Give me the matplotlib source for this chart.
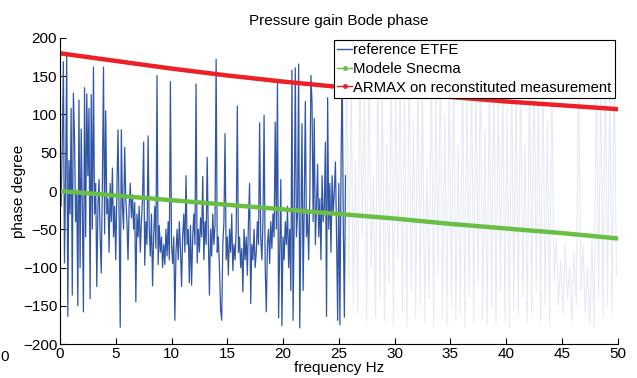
import numpy as np
import matplotlib
matplotlib.use('Agg')
import matplotlib.pyplot as plt
from matplotlib.lines import Line2D

plt.rcParams['font.family'] = ['Liberation Sans', 'DejaVu Sans']

# reference ETFE, 0 .. 25.6 Hz every 0.1 Hz
etfe_step = 0.1
etfe = [
    30, -20, 60, 169, -94, 10, 177, -164, 40, -30,
    108, -136, 128, 70, -40, 0, -150, 119, -100, 81,
    -20, -158, 135, -60, 127, 20, 108, -141, 126, -50,
    162, -30, 10, -125, -20, 15, -60, -107, 10, 162,
    -56, 105, -30, -10, -80, 10, -40, 30, -60, -20,
    -90, 0, 80, -30, -178, 80, -20, -50, 57, -10,
    -40, -90, -20, 10, -35, -5, -50, -15, -145, -30,
    -60, -20, -80, -40, -10, 64, -97, -40, -70, 72,
    -50, -85, -30, -124, -60, -20, -75, 151, -96, -45,
    -80, -60, -100, -70, -96, -50, -85, -40, -90, 143,
    -70, -95, -60, -169, -80, -50, -90, -40, -75, -125,
    -60, -30, -80, 20, -70, -50, -120, -45, -123, -60,
    -30, -70, 140, -94, -50, -80, -35, -60, 19, -90,
    -40, -70, 44, -60, -136, -50, -85, -30, -70, -45,
    172, -80, -60, -100, -155, -169, -70, -40, 75, -90,
    -60, -110, -50, -80, -30, -104, -70, -90, -50, 111,
    -80, -60, -100, -75, -132, -50, -90, -60, -110, -40,
    10, -147, -70, -90, -50, -100, -80, -40, -70, 89,
    -60, -90, -40, 99, -100, -158, -70, -50, -95, -40,
    -75, -30, -60, 90, -50, 145, -166, -80, 15, -176,
    -60, -90, -40, -70, -20, -100, -50, -130, 158, -169,
    -40, 161, -60, -30, 166, -179, -50, 88, -130, -20,
    117, -60, -30, -90, -10, 151, 115, -40, 95, -70,
    -20, 35, -60, -10, -90, 20, -40, -20, 64, -164,
    122, -50, 10, -80, 20, -30, 0, 38, -60, -169,
    10, -175, 30, 170, -40, -165, 20,
]

# faint continuation of the ETFE, 25.7 .. 49.9 Hz every 0.2 Hz
faint_start = 25.7
faint_step = 0.2
etfe_faint = [
    150, -120, 160, -150, 40, -160, 170, -60, 130, -170,
    165, -100, 20, -165, 175, -140, 150, -170, 60, -120,
    170, -175, 140, -90, 165, -160, 120, -178, 170, -130,
    90, -165, 175, -150, 150, -172, 30, -140, 168, -176,
    140, -110, 172, -165, 100, -175, 160, -150, 175, -170,
    60, -160, 165, -178, 130, -140, 170, -172, 150, -120,
    175, -168, 80, -175, 160, -150, 172, -176, 140, -130,
    168, -170, 110, -178, 175, -155, 150, -165, 170, -140,
    60, -172, 165, -160, 175, -130, 140, -170, 168, -150,
    90, -175, 160, -120, -60, -150, -90, -160, -70, -140,
    -100, -170, -80, -150, 165, -130, -70, -160, -100, -175,
    -60, -178, 170, -140, 160, -165, 175, -150, 150, -160,
    170, -110,
]

# models, every 5 Hz
model_freq = [0, 5, 10, 15, 20, 25, 30, 35, 40, 45, 50]
snecma = [0, -6, -12, -18, -24, -30, -36, -43, -49, -55, -62]
armax = [180, 170, 160, 151, 143, 136, 129, 123, 117, 112, 107]

blue = '#3156a6'
faint = '#e6eaf4'
green = '#69bf44'
red = '#ee2027'

f_etfe = np.arange(len(etfe)) * etfe_step
f_faint = faint_start + np.arange(len(etfe_faint)) * faint_step

fig = plt.figure(figsize=(6.37, 3.78), dpi=100)
ax = fig.add_axes([0.0942, 0.0899, 0.8753, 0.8096])

ax.plot(np.r_[f_etfe[-1], f_faint], np.r_[etfe[-1], etfe_faint], color=faint, lw=0.8)
ax.plot(f_etfe, etfe, color=blue, lw=0.9)
ax.plot(model_freq, snecma, color=green, lw=3.2, solid_capstyle='round')
ax.plot(model_freq, armax, color=red, lw=3.2, solid_capstyle='round')

ax.set_xlim(0, 50)
ax.set_ylim(-200, 200)
ax.set_xticks(np.arange(0, 51, 5))
ax.set_yticks(np.arange(-200, 201, 50))
ax.spines['top'].set_visible(False)
ax.spines['right'].set_visible(False)
for s in ('left', 'bottom'):
    ax.spines[s].set_linewidth(0.8)
ax.tick_params(direction='in', length=4, width=0.8, labelsize=11, pad=2)

ax.set_title('Pressure gain Bode phase', fontsize=11, pad=9)
ax.set_xlabel('frequency Hz', fontsize=11, labelpad=0)
ax.set_ylabel('phase degree', fontsize=11, labelpad=-2)

handles = [
    Line2D([], [], color=blue, lw=1),
    Line2D([], [], color=green, lw=1, marker='.', ms=5),
    Line2D([], [], color=red, lw=1, marker='.', ms=5),
]
labels = ['reference ETFE', 'Modele Snecma', 'ARMAX on reconstituted measurement']
leg = ax.legend(handles, labels, loc='upper right', bbox_to_anchor=(0.995, 0.993),
                borderaxespad=0, fontsize=10.7, fancybox=False, framealpha=1,
                edgecolor='black', handlelength=1.0, handletextpad=0.1,
                labelspacing=0.32, borderpad=0.2)
leg.get_frame().set_linewidth(0.8)

fig.text(5 / 637, 1 - 357 / 378, '0', fontsize=11, ha='center', va='center')

fig.savefig('out.png', dpi=100)
